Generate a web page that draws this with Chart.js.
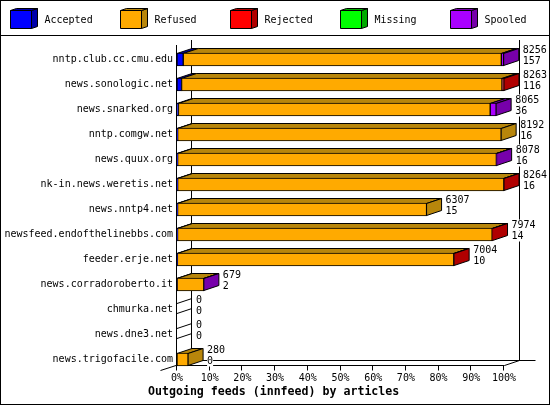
<!DOCTYPE html>
<html>
<head>
<meta charset="utf-8">
<style>
  html, body { margin: 0; padding: 0; background: #fff; }
  canvas { display: block; }
</style>
<script src="https://cdn.jsdelivr.net/npm/chart.js@4/dist/chart.umd.min.js"></script>
</head>
<body>
<canvas id="chart" width="550" height="405"></canvas>
<script>
const hosts = ['nntp.club.cc.cmu.edu', 'news.sonologic.net', 'news.snarked.org', 'nntp.comgw.net',
  'news.quux.org', 'nk-in.news.weretis.net', 'news.nntp4.net', 'newsfeed.endofthelinebbs.com',
  'feeder.erje.net', 'news.corradoroberto.it', 'chmurka.net', 'news.dne3.net', 'news.trigofacile.com']

const accepted = [157, 116, 36, 16, 16, 16, 15, 14, 10, 2, 0, 0, 0]
const refused = [8040, 8097, 7879, 8176, 8055, 8244, 6292, 7950, 6985, 675, 0, 0, 280]
const rejected = [0, 50, 0, 0, 0, 4, 0, 10, 9, 0, 0, 0, 0]
const missing = [0, 0, 0, 0, 0, 0, 0, 0, 0, 0, 0, 0, 0]
const spooled = [59, 0, 150, 0, 7, 0, 0, 0, 0, 2, 0, 0, 0]

const totalLabels = [8256, 8263, 8065, 8192, 8078, 8264, 6307, 7974, 7004, 679, 0, 0, 280]
const acceptedLabels = [157, 116, 36, 16, 16, 16, 15, 14, 10, 2, 0, 0, 0]
const xTicks = ['0%', '10%', '20%', '30%', '40%', '50%', '60%', '70%', '80%', '90%', '100%']
const titleText = 'Outgoing feeds (innfeed) by articles'
const axisMax = 8264

const MONO = '"DejaVu Sans Mono", monospace'
const DX = 15, DY = 5

const series = [
  { label: 'Accepted', data: accepted, color: '#0000ff', dark: '#0000aa' },
  { label: 'Refused', data: refused, color: '#ffaa00', dark: '#b8860b' },
  { label: 'Rejected', data: rejected, color: '#ff0000', dark: '#b00000' },
  { label: 'Missing', data: missing, color: '#00ff00', dark: '#00aa00' },
  { label: 'Spooled', data: spooled, color: '#aa00ff', dark: '#7700aa' }
]

function face(ctx, pts, fill) {
  ctx.beginPath()
  pts.forEach((p, i) => i ? ctx.lineTo(p[0], p[1]) : ctx.moveTo(p[0], p[1]))
  ctx.closePath()
  if (fill) {
    ctx.fillStyle = fill
    ctx.fill()
  }
  ctx.stroke()
}

function line(ctx, x1, y1, x2, y2) {
  ctx.beginPath()
  ctx.moveTo(x1, y1)
  ctx.lineTo(x2, y2)
  ctx.stroke()
}

const frame = {
  id: 'frame',
  beforeDraw(chart) {
    const ctx = chart.ctx
    ctx.save()
    ctx.fillStyle = '#fff'
    ctx.fillRect(0, 0, 550, 405)
    ctx.strokeStyle = '#000'
    ctx.lineWidth = 1
    ctx.strokeRect(0.5, 0.5, 549, 404)
    line(ctx, 0, 35.5, 550, 35.5)

    // legend boxes
    ctx.font = '10px ' + MONO
    ctx.textBaseline = 'middle'
    series.forEach((s, i) => {
      const x = 10.5 + i * 110
      face(ctx, [[x + 21, 10.5], [x + 27, 8.5], [x + 27, 26.5], [x + 21, 28.5]], s.dark)
      face(ctx, [[x, 10.5], [x + 6, 8.5], [x + 27, 8.5], [x + 21, 10.5]], s.dark)
      face(ctx, [[x, 10.5], [x + 21, 10.5], [x + 21, 28.5], [x, 28.5]], s.color)
      ctx.fillStyle = '#000'
      ctx.fillText(s.label, x + 34, 20.5)
    })

    ctx.font = 'bold 11.6px ' + MONO
    ctx.textAlign = 'left'
    ctx.fillText(titleText, 148, 391.5)
    ctx.restore()
  },
  beforeDatasetsDraw(chart) {
    const ctx = chart.ctx
    const x = chart.scales.x
    const left = x.getPixelForValue(0) - 0.5
    const right = x.getPixelForValue(axisMax) + 0.5
    ctx.save()
    ctx.strokeStyle = '#000'
    ctx.lineWidth = 1

    // 3d axes box
    line(ctx, left, 45, left, 365.5)
    line(ctx, left + DX, 40, left + DX, 360.5)
    line(ctx, right + DX, 40, right + DX, 360.5)
    line(ctx, left, 365.5, right, 365.5)
    line(ctx, left + DX, 360.5, right + 31, 360.5)
    line(ctx, left - 16, 370.5, left + DX, 360.5)
    line(ctx, right, 365.5, right + DX, 360.5)
    x.ticks.forEach(t => {
      const px = Math.round(x.getPixelForValue(t.value)) - 0.5
      line(ctx, px, 365.5, px, 370.5)
    })

    // top and side faces of the stacked bars
    hosts.forEach((h, row) => {
      const y = chart.scales.y.getPixelForValue(row)
      const top = y - 6, bottom = y + 6
      let last = null
      let sum = 0
      series.forEach(s => {
        const v = s.data[row]
        if (!v) return
        const x0 = x.getPixelForValue(sum)
        const x1 = x.getPixelForValue(sum + v)
        face(ctx, [[x0, top], [x0 + DX, top - DY], [x1 + DX, top - DY], [x1, top]], s.dark)
        sum += v
        last = s
      })
      const end = x.getPixelForValue(sum)
      if (last) {
        face(ctx, [[end, top], [end + DX, top - DY], [end + DX, bottom - DY], [end, bottom]], last.dark)
      } else {
        line(ctx, end, top, end + DX, top - DY)
        line(ctx, end, bottom - 2, end + DX, bottom - 2 - DY)
      }
    })
    ctx.restore()
  },
  afterDatasetsDraw(chart) {
    const ctx = chart.ctx
    const x = chart.scales.x
    ctx.save()
    ctx.font = '10px ' + MONO
    ctx.textBaseline = 'middle'
    hosts.forEach((h, row) => {
      const y = chart.scales.y.getPixelForValue(row)
      const lx = x.getPixelForValue(totalLabels[row]) + DX + 4
      const pairs = [[String(totalLabels[row]), y - 9.5], [String(acceptedLabels[row]), y + 1.5]]
      pairs.forEach(([txt, ty]) => {
        ctx.fillStyle = '#fff'
        ctx.fillRect(lx, ty - 5.5, ctx.measureText(txt).width, 11)
        ctx.fillStyle = '#000'
        ctx.fillText(txt, lx, ty)
      })
    })
    ctx.restore()
  }
}

new Chart(document.getElementById('chart'), {
  type: 'bar',
  plugins: [frame],
  data: {
    labels: hosts,
    datasets: series.map(s => ({
      label: s.label,
      data: s.data,
      backgroundColor: s.color,
      borderColor: '#000',
      borderWidth: 1,
      borderSkipped: false,
      barThickness: 13
    }))
  },
  options: {
    indexAxis: 'y',
    responsive: false,
    animation: false,
    devicePixelRatio: 1,
    layout: { padding: { top: 47, right: 46, left: 0, bottom: 0 } },
    plugins: {
      legend: { display: false },
      tooltip: { enabled: false }
    },
    scales: {
      x: {
        stacked: true,
        min: 0,
        max: axisMax,
        grid: { display: false, drawTicks: false },
        border: { display: false },
        ticks: {
          count: 11,
          autoSkip: false,
          maxRotation: 0,
          padding: 0,
          color: '#000',
          font: { family: MONO, size: 10 },
          callback: (v, i) => xTicks[i]
        },
        afterFit: s => { s.height = 33 }
      },
      y: {
        stacked: true,
        grid: { display: false, drawTicks: false },
        border: { display: false },
        ticks: {
          autoSkip: false,
          padding: 4,
          color: '#000',
          font: { family: MONO, size: 10 }
        },
        afterFit: s => { s.width = 177 }
      }
    }
  }
})
</script>
</body>
</html>
